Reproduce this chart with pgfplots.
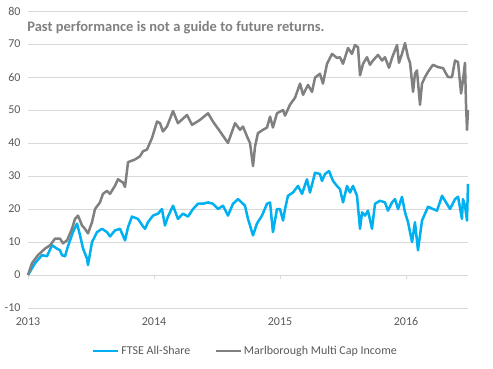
\documentclass[border=0pt]{standalone}
\usepackage{fontspec}
\setmainfont{Carlito}
\usepackage{pgfplots}
\pgfplotsset{compat=1.18}
\definecolor{ftse}{RGB}{0,176,240}
\definecolor{marl}{RGB}{128,128,128}
\definecolor{gridc}{RGB}{217,217,217}
\definecolor{txt}{RGB}{89,89,89}
\begin{document}
\begin{tikzpicture}
\path[use as bounding box] (-28pt,-60pt) rectangle (465pt,308pt);
\begin{axis}[
  name=ax,
  scale only axis,
  width=440pt, height=297pt,
  xmin=0, xmax=3.492,
  ymin=-10, ymax=80,
  ytick={-10,0,...,80},
  xtick={0,1,2,3},
  xticklabels={2013,2014,2015,2016},
  axis line style={draw=none},
  major tick length=0pt,
  ymajorgrids,
  grid style={gridc, line width=0.75pt},
  /pgf/number format/assume math mode=true,
  tick label style={font=\fontsize{12}{14}\selectfont, text=txt},
  yticklabel style={xshift=-4pt},
  xticklabel style={yshift=-6pt},
  legend style={draw=none, fill=none, at={(0.494,-0.145)}, anchor=center,
    font=\fontsize{12}{14}\selectfont, text=txt,
    /tikz/every even column/.append style={column sep=22pt}},
  legend columns=2,
  legend image code/.code={\draw[#1] (0pt,0pt) -- (25pt,0pt);},
  clip=false,
]
\draw[gridc, line width=0.75pt] (axis cs:0,0) -- ++(0pt,-4pt);
\draw[gridc, line width=0.75pt] (axis cs:1,0) -- ++(0pt,-4pt);
\draw[gridc, line width=0.75pt] (axis cs:2,0) -- ++(0pt,-4pt);
\draw[gridc, line width=0.75pt] (axis cs:3,0) -- ++(0pt,-4pt);
\addplot[ftse, line width=2.5pt, line join=round] coordinates {
(0,0) (0.056,3.6) (0.111,6) (0.151,5.7) (0.190,9) (0.230,8) (0.254,7.5) (0.270,6)
(0.294,5.7) (0.317,8.7) (0.357,13) (0.389,15.6) (0.413,12) (0.437,8) (0.468,5)
(0.476,3) (0.508,10) (0.548,13) (0.587,14) (0.627,13) (0.651,11.7) (0.690,13.5)
(0.730,14) (0.770,10.5) (0.794,14.5) (0.825,17.7) (0.873,17) (0.913,14.7)
(0.929,14) (0.952,16) (0.992,18) (1.032,18.6) (1.063,20) (1.087,15) (1.111,17.7)
(1.151,21) (1.190,17) (1.230,18.6) (1.270,17.7) (1.310,20) (1.349,21.6)
(1.389,21.6) (1.429,22) (1.468,21.6) (1.508,20) (1.548,21) (1.587,18)
(1.627,21.6) (1.667,23) (1.706,21.6) (1.722,21) (1.746,17) (1.786,12)
(1.817,15.6) (1.857,18) (1.897,21.6) (1.921,22) (1.944,13) (1.976,20) (2.000,20)
(2.024,16.5) (2.040,20) (2.063,24) (2.103,25) (2.143,27) (2.175,24.6) (2.214,29)
(2.238,25) (2.278,31) (2.317,30.6) (2.333,28.5) (2.357,30.6) (2.389,31.5)
(2.421,28.5) (2.452,27) (2.476,26) (2.500,22) (2.532,27) (2.556,25) (2.579,27)
(2.611,24) (2.635,14) (2.651,19) (2.675,18) (2.698,19.5) (2.730,14) (2.754,21.6)
(2.794,22.5) (2.833,22) (2.857,19.5) (2.889,22) (2.913,23) (2.937,20)
(2.968,23.7) (2.992,19) (3.016,16) (3.048,10) (3.071,16) (3.095,7.5) (3.127,16.5)
(3.151,18.6) (3.175,20.7) (3.214,20) (3.246,19.5) (3.286,24) (3.310,22.5)
(3.349,20) (3.389,23) (3.413,23.7) (3.444,17) (3.452,23) (3.468,21) (3.484,16.5)
(3.492,27.6)
};
\addlegendentry{FTSE All-Share}
\addplot[marl, line width=2.5pt, line join=round] coordinates {
(0,0) (0.032,3.6) (0.079,6) (0.135,8) (0.175,9) (0.214,11) (0.254,11) (0.278,9.6)
(0.310,10.5) (0.349,14) (0.373,17) (0.397,18) (0.429,15) (0.452,14) (0.476,12.6)
(0.508,16) (0.532,20) (0.571,22) (0.595,24.6) (0.627,25.5) (0.651,24.6)
(0.690,27) (0.714,29) (0.754,28) (0.770,26.7) (0.794,34.2) (0.849,35) (0.889,36)
(0.913,37.5) (0.944,38) (0.984,41.5) (1.024,46.5) (1.048,46) (1.071,43.5)
(1.103,45) (1.151,49.7) (1.190,46) (1.262,48.5) (1.302,45.5) (1.365,47)
(1.429,49) (1.468,46.5) (1.524,43.5) (1.587,40) (1.643,46) (1.683,44) (1.706,45)
(1.738,42) (1.762,40) (1.786,33) (1.802,39) (1.825,43) (1.865,44) (1.897,44.7)
(1.921,48) (1.944,44.7) (1.976,49) (2.024,50) (2.040,48.3) (2.079,51.6)
(2.119,53.7) (2.159,58) (2.183,54.6) (2.222,57.6) (2.254,55.5) (2.278,59.8)
(2.317,61) (2.341,58) (2.373,64) (2.413,67) (2.452,65.8) (2.476,66) (2.500,64)
(2.540,68.8) (2.571,67) (2.595,69.7) (2.619,69) (2.635,60.5) (2.659,64)
(2.690,66) (2.714,63.7) (2.738,65) (2.778,66.7) (2.810,65) (2.833,66)
(2.865,62.8) (2.889,65.8) (2.929,69.7) (2.944,64.3) (2.968,67) (2.992,70.3)
(3.016,66) (3.032,64.3) (3.056,55.5) (3.071,61) (3.087,62) (3.111,51.6)
(3.127,58) (3.151,60) (3.175,61.6) (3.214,63.7) (3.254,63) (3.294,62.7)
(3.333,60) (3.365,60) (3.389,65) (3.413,64.5) (3.437,55) (3.452,59) (3.468,64.3)
(3.476,52) (3.484,44) (3.492,50)
};
\addlegendentry{Marlborough Multi Cap Income}
\node[anchor=west, inner sep=0pt, text=marl, font=\fontsize{14.5}{16}\selectfont\bfseries]
  at (rel axis cs:-0.002,0.943) {Past performance is not a guide to future returns.};
\end{axis}
\end{tikzpicture}
\end{document}
